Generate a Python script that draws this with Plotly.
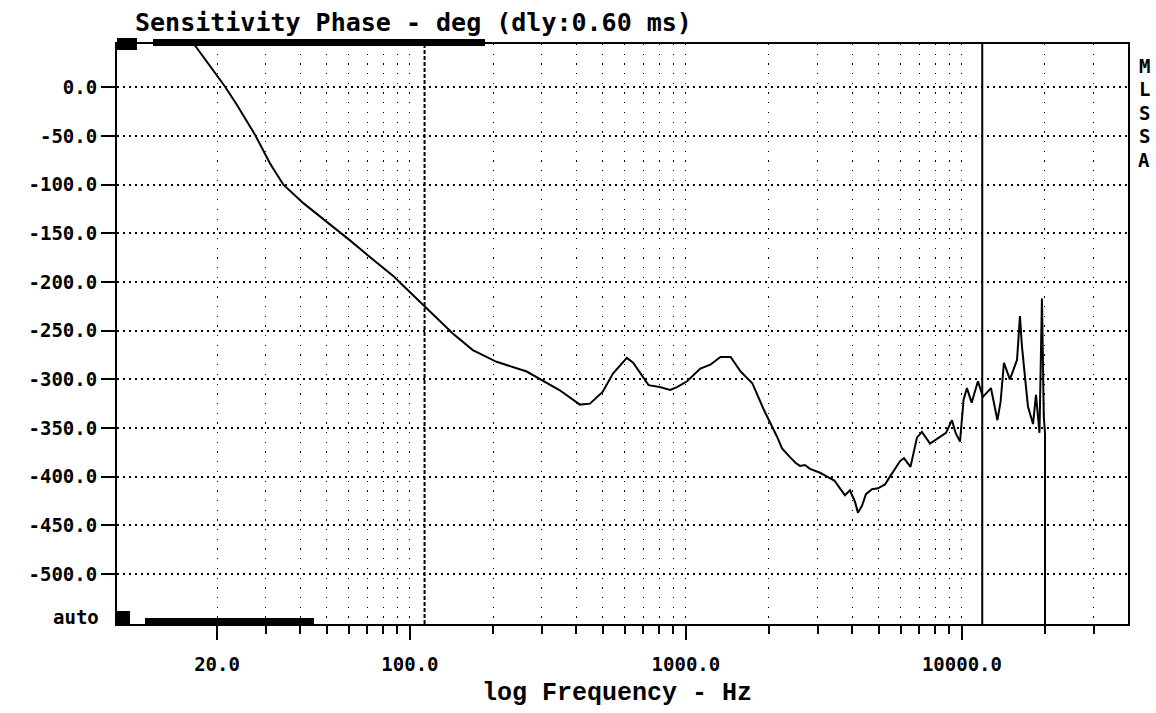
import plotly.graph_objects as go

# ---------------- data ----------------
freq_hz = [
    16.0, 16.6, 21.4, 23.6, 27.5, 31.1, 33.9, 34.8, 41.1, 50.0, 60.5, 71.4, 87.2,
    92.4, 113, 143, 169, 206, 265, 303, 348, 413, 449, 499, 544, 611, 644, 732,
    804, 877, 928, 1010, 1128, 1226, 1334, 1452, 1579, 1740, 1914, 2139, 2230,
    2383, 2500, 2589, 2700, 2817, 3061, 3200, 3327, 3450, 3616, 3770, 3930, 4100,
    4200, 4345, 4490, 4723,
    4966, 5265, 5486, 5726, 5970, 6166, 6513, 6871, 7165, 7662, 8295, 8757, 9204,
    9487, 9842, 10142, 10430, 10846, 11430, 11920, 12740, 13450, 13810, 14200,
    14920, 15840, 16230, 16500, 17350, 18100, 18550, 19100, 19500, 19800, 20000,
    20000,
]
phase_deg = [
    50, 43.5, 0.6, -18, -49, -78, -95, -100, -119, -138, -157, -174, -194,
    -201, -225, -253, -270, -282, -292, -301, -311, -326, -325, -313, -294, -278, -283, -306,
    -308, -311, -308, -302, -289, -285, -277, -277, -292, -304, -331, -359, -371,
    -380, -386, -389, -388, -392, -396, -399, -402, -404, -412, -419, -414, -426,
    -437, -430, -418, -413,
    -412, -408, -400, -392, -384, -381, -390, -360, -354, -366, -359, -355, -342,
    -355, -364, -321, -309, -324, -302, -318, -309, -342, -323, -283,
    -300, -280, -235, -266, -328, -346, -316, -355, -217, -338, -355,
    -600,
]

y_tick_vals = [0, -50, -100, -150, -200, -250, -300, -350, -400, -450, -500]
y_tick_text = ["0.0", "-50.0", "-100.0", "-150.0", "-200.0", "-250.0",
               "-300.0", "-350.0", "-400.0", "-450.0", "-500.0"]
x_major_vals = [20, 100, 1000, 10000]
x_major_text = ["20.0", "100.0", "1000.0", "10000.0"]
x_minor_vals = [30, 40, 50, 60, 70, 80, 90,
                200, 300, 400, 500, 600, 700, 800, 900,
                2000, 3000, 4000, 5000, 6000, 7000, 8000, 9000,
                20000, 30000]

dashed_cursor_hz = 113.0
solid_cursor_hz = 11850.0

x_range_log = [0.9387, 4.6018]
y_range_deg = [-551.4, 44.5]

title_text = "Sensitivity Phase - deg (dly:0.60 ms)"
x_title_text = "log Frequency - Hz"
side_letters = ["M", "L", "S", "S", "A"]

# ---------------- figure ----------------
W, H = 1156, 713
L, R, T, B = 117, 28, 44, 89
pw, ph = W - L - R, H - T - B

def px(xp):
    return (xp - L) / pw

def py(yp):
    return (H - B - yp) / ph

MONO = "DejaVu Sans Mono"
fig = go.Figure()

fig.add_trace(go.Scatter(
    x=freq_hz, y=phase_deg, mode="lines",
    line=dict(color="black", width=2), hoverinfo="skip", showlegend=False))

fig.add_trace(go.Scatter(
    x=[dashed_cursor_hz, dashed_cursor_hz], y=y_range_deg, mode="lines",
    line=dict(color="black", width=2, dash="4px,2px"), showlegend=False, hoverinfo="skip"))
fig.add_trace(go.Scatter(
    x=[solid_cursor_hz, solid_cursor_hz], y=y_range_deg, mode="lines",
    line=dict(color="black", width=2), showlegend=False, hoverinfo="skip"))

fig.update_layout(
    width=W, height=H,
    margin=dict(l=L, r=R, t=T, b=B),
    paper_bgcolor="white", plot_bgcolor="white",
    font=dict(family=MONO, color="black"),
    showlegend=False,
)

fig.update_xaxes(
    type="log", range=x_range_log,
    showline=True, linecolor="black", linewidth=2, mirror=True,
    tickmode="array", tickvals=x_major_vals, ticktext=x_major_text,
    ticks="outside", ticklen=14, tickwidth=2, tickcolor="black",
    ticklabelstandoff=8,
    tickfont=dict(family=MONO, size=19, weight="bold"),
    showgrid=True, gridcolor="black", gridwidth=1.3, griddash="1.3px,8.4px",
    minor=dict(tickmode="array", tickvals=x_minor_vals, ticks="outside",
               ticklen=8, tickwidth=2, tickcolor="black",
               showgrid=True, gridcolor="black", gridwidth=1.3, griddash="1.3px,8.4px"),
    zeroline=False,
)
fig.update_yaxes(
    range=y_range_deg,
    showline=True, linecolor="black", linewidth=2, mirror=True,
    tickmode="array", tickvals=y_tick_vals, ticktext=y_tick_text,
    ticks="outside", ticklen=14, tickwidth=2, tickcolor="black",
    tickfont=dict(family=MONO, size=19, weight="bold"),
    showgrid=True, gridcolor="black", gridwidth=1.5, griddash="2px,4px",
    zeroline=False,
)

# decorative black bars (scroll indicators) in pixel-derived paper coordinates
bars = [
    (117, 137, 38, 50),
    (153, 485, 39, 46),
    (117, 130, 611, 624),
    (145, 314, 618, 626),
]
for x0, x1, y0, y1 in bars:
    fig.add_shape(type="rect", xref="paper", yref="paper",
                  x0=px(x0), x1=px(x1), y0=py(y1), y1=py(y0),
                  fillcolor="black", line=dict(width=0))

fig.add_annotation(text=title_text, xref="paper", yref="paper",
                   x=px(133), y=py(22), xanchor="left", yanchor="middle",
                   showarrow=False, font=dict(family=MONO, size=25, weight="bold"))
fig.add_annotation(text=x_title_text, xref="paper", yref="paper",
                   x=px(617), y=py(693), xanchor="center", yanchor="middle",
                   showarrow=False, font=dict(family="Liberation Mono", size=25, weight="bold"))
fig.add_annotation(text="auto", xref="paper", yref="paper",
                   x=px(101), y=py(617), xanchor="right", yanchor="middle",
                   showarrow=False, font=dict(family=MONO, size=19, weight="bold"))
for i, ch in enumerate(side_letters):
    fig.add_annotation(text=ch, xref="paper", yref="paper",
                       x=px(1144), y=py(66 + i * 23.5), xanchor="center", yanchor="middle",
                       showarrow=False, font=dict(family=MONO, size=19, weight="bold"))

fig.write_html(
    "out.html",
    config={"displayModeBar": False},
    post_script="document.body.style.margin='0';document.body.style.overflow='hidden';",
)
